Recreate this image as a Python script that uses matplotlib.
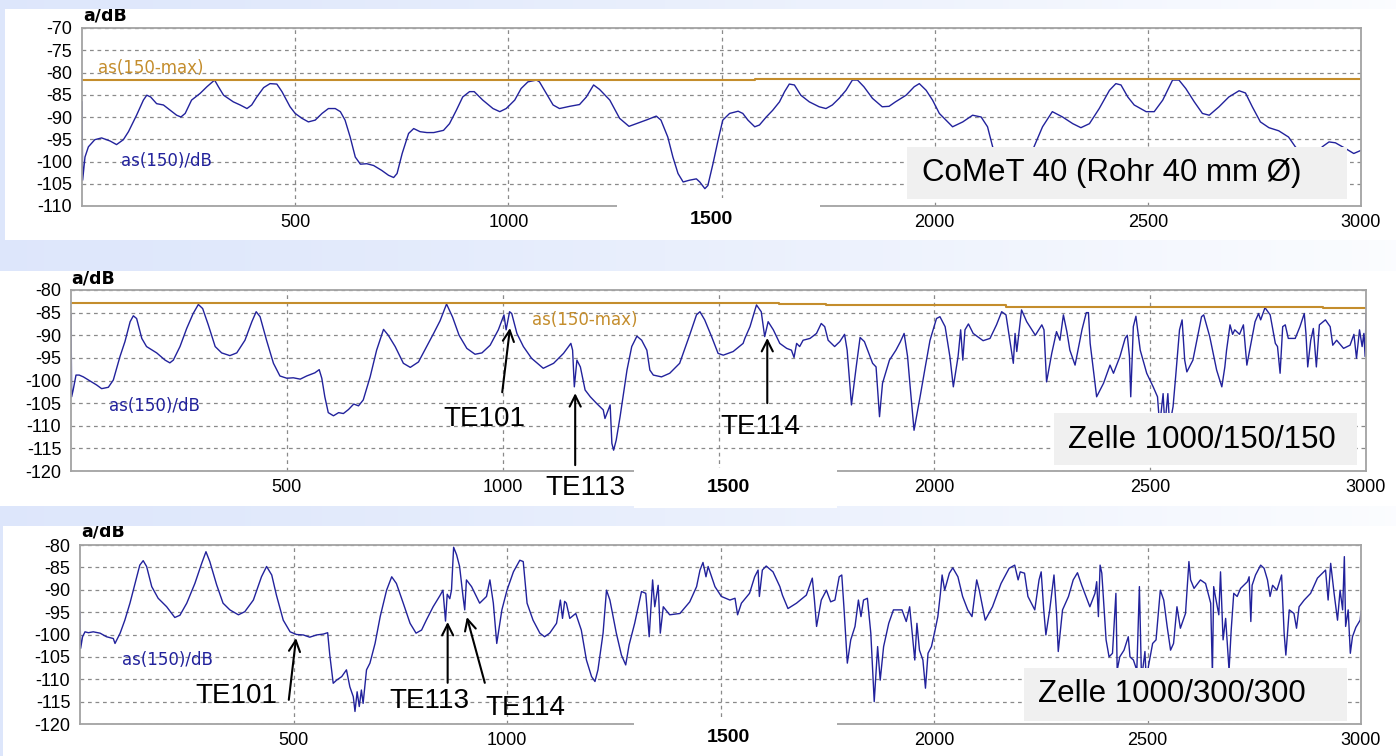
import numpy as np
import matplotlib
matplotlib.use('Agg')
import matplotlib.pyplot as plt
from matplotlib.patches import Rectangle
from matplotlib.transforms import Bbox, TransformedBbox

W, H = 1396, 756

# ---- spectra: (frequency, level in dB) ----
comet_pts = [
    (0, -86.6), (1.5, -104.2), (7, -99), (15, -96.7), (30, -95.1), (46, -94.7), (66, -95.4),
    (81, -96.2), (97, -95.1), (109, -93.3), (128, -89.6), (144, -86.2), (152, -85.1), (161, -85.5),
    (175, -87.0), (191, -87.3), (207, -88.5), (222, -89.6), (232, -90.0), (242, -89.2), (257, -86.2),
    (277, -84.7), (293, -83.2), (311, -81.7), (320, -83.2), (332, -85.1), (355, -86.6), (371, -87.3),
    (387, -88.1), (398, -87.3), (410, -85.5), (426, -83.4), (441, -82.5), (457, -82.6), (469, -84.3),
    (488, -87.7), (500, -89.2), (516, -90.3), (531, -91.1), (547, -90.7), (563, -89.2), (578, -88.1),
    (594, -88.1), (606, -88.8), (617, -90.7), (629, -94.5), (641, -99.0), (653, -100.6), (668, -100.5),
    (684, -100.9), (703, -102.0), (719, -103.1), (731, -103.6), (739, -102.7), (751, -98.2),
    (766, -93.7), (778, -92.6), (793, -93.3), (809, -93.5), (825, -93.5), (848, -93.0), (862, -91.5),
    (878, -88.5), (893, -85.5), (909, -84.3), (920, -84.3), (940, -86.2), (964, -88.1), (980, -88.8),
    (995, -88.1), (1015, -86.2), (1030, -83.6), (1046, -82.1), (1066, -81.7), (1073, -82.1),
    (1089, -84.7), (1105, -87.3), (1120, -88.1), (1144, -87.6), (1167, -87.2), (1183, -85.5),
    (1200, -82.8), (1214, -83.8), (1238, -86.2), (1261, -90.3), (1283, -92.1), (1300, -91.5),
    (1323, -90.7), (1347, -89.8), (1358, -90.7), (1374, -94.5), (1386, -99.0), (1398, -102.7),
    (1410, -104.6), (1425, -104.2), (1441, -103.9), (1449, -104.6), (1461, -106.1), (1468, -105.4),
    (1480, -100.5), (1492, -95.2), (1503, -90.7), (1519, -89.2), (1539, -88.7), (1550, -89.2),
    (1562, -90.7), (1578, -92.2), (1589, -91.8), (1605, -90.0), (1620, -88.5), (1636, -86.6),
    (1648, -84.3), (1659, -82.6), (1671, -82.8), (1686, -85.1), (1706, -86.6), (1729, -87.7),
    (1745, -88.1), (1760, -87.3), (1776, -85.8), (1792, -84.0), (1807, -81.7), (1819, -81.7),
    (1834, -83.2), (1854, -85.8), (1877, -87.7), (1893, -87.6), (1908, -86.6), (1933, -85.1),
    (1952, -83.2), (1964, -82.5), (1980, -84.0), (1995, -86.2), (2011, -89.2), (2042, -92.2),
    (2066, -91.1), (2089, -89.6), (2109, -90.0), (2124, -92.2), (2136, -96.7), (2160, -101.0),
    (2195, -103.0), (2220, -100.0), (2233, -96.7), (2253, -92.2), (2276, -88.8), (2300, -90.0),
    (2324, -91.5), (2343, -92.4), (2363, -91.5), (2386, -88.1), (2410, -84.0), (2425, -82.5),
    (2437, -82.8), (2453, -85.5), (2468, -87.3), (2496, -88.8), (2515, -88.8), (2535, -86.2),
    (2558, -81.7), (2573, -81.7), (2589, -83.6), (2609, -86.6), (2628, -89.2), (2644, -89.6),
    (2667, -87.7), (2690, -85.5), (2714, -84.1), (2729, -84.6), (2745, -87.7), (2764, -91.1),
    (2784, -92.4), (2807, -93.1), (2830, -94.5), (2846, -96.7), (2870, -99.0), (2895, -98.5),
    (2909, -96.7), (2925, -95.6), (2940, -95.8), (2964, -97.1), (2983, -98.2), (2993, -97.8),
    (3000, -97.5),
]
comet_max = [(0, -81.7), (1578, -81.5), (3000, -81.5)]

cell150_pts = [
    (0, -85.2), (1.5, -103.6), (5, -102.1), (11.6, -98.8), (19, -98.8), (28.6, -99.2), (44, -100.1),
    (59.5, -101.0), (71, -101.8), (86.5, -101.5), (98, -99.9), (113.5, -94.7), (125, -91.4),
    (137, -87.0), (144.4, -85.7), (152, -86.3), (164, -90.7), (175, -92.5), (198.5, -93.9),
    (218, -95.5), (229, -96.1), (237, -95.5), (252.5, -92.5), (268, -88.5), (283, -85.2),
    (295, -83.2), (305, -84.1), (318, -87.7), (334, -92.5), (349, -93.9), (368, -94.5), (384, -93.9),
    (403, -91.1), (419, -87.0), (429, -84.8), (438, -85.9), (453, -91.1), (469, -96.2), (484, -99.0),
    (500, -99.5), (515, -99.4), (531, -99.7), (546, -99.0), (565, -98.3), (575, -97.6), (581, -99.5),
    (588, -103.6), (596, -107.1), (608, -107.8), (620, -107.1), (631, -107.3), (643, -106.4),
    (655, -105.2), (666, -105.6), (677, -104.3), (693, -99.2), (708, -93.3), (724, -88.7),
    (735, -90.0), (751, -92.5), (770, -96.2), (786, -97.1), (805, -95.9), (824, -92.5), (840, -89.6),
    (855, -86.8), (870, -83.1), (884, -86.0), (899, -90.0), (917, -92.9), (936, -94.2), (952, -93.9),
    (971, -92.2), (990, -88.8), (1003, -85.5), (1008, -88.8), (1016, -84.8), (1021, -85.2),
    (1033, -89.6), (1048, -92.5), (1067, -95.1), (1094, -97.3), (1118, -96.2), (1141, -94.0),
    (1158, -91.8), (1162, -93.3), (1166, -101.4), (1172, -95.5), (1180, -97.0), (1191, -102.1),
    (1203, -103.6), (1218, -105.1), (1233, -106.5), (1237, -108.4), (1249, -105.4), (1253, -113.9),
    (1257, -115.4), (1263, -113.2), (1272, -108.0), (1288, -97.7), (1299, -92.5), (1311, -90.2),
    (1322, -91.1), (1334, -93.3), (1341, -97.7), (1349, -98.8), (1368, -99.2), (1387, -98.4),
    (1410, -96.2), (1433, -90.0), (1449, -85.5), (1457, -84.8), (1468, -86.6), (1484, -90.3),
    (1499, -94.0), (1511, -94.4), (1534, -93.6), (1557, -91.8), (1561, -90.7), (1573, -88.1),
    (1588, -83.3), (1599, -84.8), (1607, -90.3), (1615, -87.0), (1627, -88.8), (1642, -91.8),
    (1658, -92.9), (1669, -93.3), (1675, -94.9), (1681, -91.8), (1688, -92.5), (1696, -91.1),
    (1712, -90.7), (1727, -89.6), (1738, -87.4), (1746, -88.1), (1754, -91.1), (1769, -92.5),
    (1781, -91.4), (1792, -89.8), (1798, -93.3), (1808, -105.4), (1819, -97.0), (1828, -90.5),
    (1838, -91.4), (1857, -96.2), (1865, -97.0), (1873, -108.0), (1880, -100.6), (1896, -95.5),
    (1911, -93.3), (1921, -91.5), (1930, -89.6), (1938, -94.7), (1944, -101.4), (1953, -111.0),
    (1967, -103.6), (1979, -97.0), (1990, -91.1), (2005, -86.3), (2013, -85.9), (2025, -88.1),
    (2036, -94.7), (2044, -101.4), (2055, -94.7), (2061, -88.8), (2066, -95.5), (2071, -88.8),
    (2079, -87.5), (2090, -89.6), (2113, -91.2), (2129, -90.7), (2144, -87.7), (2156, -84.8),
    (2166, -85.5), (2175, -91.1), (2183, -96.2), (2187, -89.6), (2191, -93.6), (2202, -84.4),
    (2214, -87.0), (2234, -90.0), (2249, -87.7), (2254, -88.8), (2260, -100.3), (2272, -94.0),
    (2283, -89.2), (2291, -91.1), (2299, -85.5), (2307, -89.2), (2314, -93.3), (2326, -96.6),
    (2342, -88.8), (2352, -85.0), (2357, -85.0), (2361, -91.8), (2376, -103.6), (2392, -100.6),
    (2407, -96.6), (2415, -98.4), (2430, -94.7), (2442, -90.7), (2447, -90.0), (2452, -94.7),
    (2455, -103.6), (2461, -88.1), (2467, -85.8), (2477, -93.3), (2492, -98.4), (2507, -101.4),
    (2517, -103.6), (2522, -110.0), (2530, -102.9), (2534, -110.0), (2541, -102.9), (2545, -110.0),
    (2553, -105.8), (2559, -99.2), (2568, -88.8), (2574, -86.6), (2580, -95.5), (2585, -98.1),
    (2599, -95.5), (2619, -85.9), (2624, -85.5), (2638, -90.3), (2654, -97.7), (2666, -101.4),
    (2673, -97.0), (2677, -93.3), (2685, -87.7), (2691, -89.8), (2696, -88.8), (2707, -89.8),
    (2716, -87.7), (2724, -96.6), (2735, -91.1), (2743, -87.0), (2751, -85.2), (2756, -86.6),
    (2766, -83.9), (2778, -85.5), (2790, -91.8), (2795, -92.5), (2801, -98.4), (2807, -88.1),
    (2813, -87.7), (2820, -90.7), (2836, -90.7), (2847, -88.1), (2857, -85.2), (2861, -89.8),
    (2865, -97.0), (2872, -91.1), (2878, -88.5), (2885, -97.0), (2892, -87.7), (2906, -86.6),
    (2917, -88.1), (2923, -92.2), (2932, -91.1), (2948, -92.9), (2963, -92.2), (2972, -89.8),
    (2978, -95.1), (2985, -88.8), (2991, -92.5), (2995, -89.6), (2998, -94.7), (3000, -85.2),
]
cell150_max = [(0, -82.8), (1640, -83.0), (1750, -83.3), (2165, -83.7), (2900, -84.0), (3000, -84.0)]

cell300_pts = [
    (0, -94.9), (1.5, -103.1), (6, -100.5), (11.7, -99.4), (19.5, -99.6), (31, -99.4), (47, -99.7),
    (62, -100.5), (78, -100.9), (82, -102.0), (94, -99.7), (105, -96.8), (117, -93.0), (129, -88.6),
    (140, -84.5), (148, -83.5), (156, -84.8), (168, -89.3), (183, -91.9), (203, -93.8), (222, -96.2),
    (234, -95.7), (250, -93.0), (269, -88.6), (285, -84.1), (295, -81.5), (304, -83.7), (320, -88.9),
    (335, -93.0), (351, -94.5), (371, -95.6), (386, -94.9), (406, -92.3), (425, -87.1), (437, -84.8),
    (449, -86.7), (460, -91.2), (476, -96.8), (492, -99.4), (507, -100.0), (523, -100.1),
    (538, -100.6), (554, -100.1), (570, -99.9), (580, -99.6), (585, -104.6), (593, -110.9),
    (601, -110.2), (613, -109.4), (624, -107.9), (632, -111.7), (640, -113.9), (644, -117.2),
    (649, -112.8), (654, -116.1), (659, -112.4), (663, -115.4), (667, -111.7), (671, -107.9),
    (679, -106.4), (691, -102.0), (703, -96.0), (718, -90.1), (730, -87.1), (741, -88.6),
    (757, -93.0), (773, -97.5), (787, -99.7), (800, -99.0), (811, -96.8), (827, -93.8), (843, -91.3),
    (850, -90.1), (856, -97.0), (860, -91.0), (866, -92.0), (870, -90.1), (875, -80.5), (882, -82.2),
    (889, -84.8), (897, -91.5), (901, -94.5), (905, -87.8), (917, -89.3), (936, -93.0), (952, -91.5),
    (960, -87.8), (968, -93.0), (976, -102.0), (988, -94.5), (1000, -90.1), (1015, -86.0),
    (1030, -83.4), (1038, -83.7), (1047, -93.0), (1061, -96.8), (1077, -99.7), (1088, -100.5),
    (1100, -99.7), (1116, -97.5), (1125, -92.3), (1130, -96.4), (1135, -92.6), (1139, -93.0),
    (1147, -96.4), (1161, -95.3), (1174, -99.0), (1186, -105.7), (1198, -109.4), (1206, -110.5),
    (1213, -107.9), (1225, -99.7), (1233, -90.1), (1241, -92.3), (1256, -99.7), (1268, -104.6),
    (1278, -106.8), (1286, -102.3), (1299, -97.5), (1315, -90.4), (1325, -90.8), (1333, -100.5),
    (1341, -87.8), (1346, -93.8), (1354, -89.0), (1359, -99.7), (1366, -93.8), (1381, -95.6),
    (1405, -95.3), (1428, -92.7), (1444, -89.3), (1452, -85.6), (1459, -83.9), (1466, -87.1),
    (1471, -84.8), (1487, -89.3), (1502, -91.5), (1522, -92.3), (1534, -91.9), (1540, -95.6),
    (1549, -93.0), (1568, -90.8), (1580, -87.1), (1588, -85.6), (1591, -91.5), (1598, -85.6),
    (1607, -84.7), (1623, -86.0), (1639, -89.3), (1645, -91.2), (1658, -94.2), (1678, -93.0),
    (1701, -91.2), (1715, -87.4), (1720, -92.3), (1725, -98.2), (1736, -92.3), (1748, -90.1),
    (1758, -92.7), (1768, -92.3), (1778, -87.1), (1784, -86.7), (1789, -93.8), (1797, -106.4),
    (1805, -101.2), (1815, -98.2), (1823, -92.3), (1829, -96.0), (1835, -92.3), (1844, -91.9),
    (1852, -99.7), (1860, -115.0), (1868, -102.7), (1874, -110.2), (1882, -102.7), (1894, -97.5),
    (1905, -94.5), (1925, -94.5), (1935, -97.1), (1943, -93.8), (1949, -99.7), (1955, -105.7),
    (1960, -97.5), (1966, -103.5), (1974, -105.7), (1980, -112.0), (1986, -104.2), (1994, -102.7),
    (2001, -99.7), (2009, -96.0), (2015, -90.8), (2019, -86.7), (2025, -90.1), (2036, -86.3),
    (2044, -85.1), (2056, -87.1), (2067, -91.5), (2079, -94.5), (2089, -96.0), (2100, -87.8),
    (2106, -90.1), (2120, -96.8), (2137, -93.8), (2157, -88.6), (2176, -85.2), (2189, -84.5),
    (2197, -87.8), (2202, -86.0), (2212, -86.3), (2220, -91.5), (2236, -94.5), (2246, -87.8),
    (2251, -86.0), (2257, -94.5), (2262, -100.1), (2271, -94.5), (2281, -86.7), (2287, -95.3),
    (2291, -103.8), (2301, -94.5), (2315, -91.5), (2326, -87.8), (2336, -86.2), (2346, -89.0),
    (2365, -93.8), (2377, -90.8), (2381, -88.2), (2385, -96.0), (2389, -84.5), (2393, -86.3),
    (2398, -93.8), (2403, -101.2), (2410, -105.0), (2418, -104.2), (2426, -90.8), (2429, -108.0),
    (2435, -105.0), (2445, -103.5), (2455, -100.5), (2459, -105.0), (2467, -105.7), (2475, -108.0),
    (2481, -89.3), (2486, -110.0), (2494, -103.8), (2498, -112.0), (2502, -107.2), (2512, -102.0),
    (2520, -101.2), (2530, -90.1), (2538, -92.3), (2546, -98.2), (2554, -103.5), (2561, -102.0),
    (2569, -93.8), (2577, -98.6), (2589, -95.3), (2597, -83.7), (2601, -87.8), (2609, -89.7),
    (2624, -87.8), (2636, -88.6), (2648, -93.0), (2652, -109.0), (2655, -89.3), (2659, -91.5),
    (2667, -95.6), (2671, -86.0), (2677, -101.2), (2683, -96.4), (2691, -108.0), (2696, -99.0),
    (2702, -90.8), (2710, -91.5), (2718, -89.7), (2734, -88.2), (2738, -87.1), (2742, -97.1),
    (2745, -89.0), (2753, -86.7), (2765, -84.5), (2773, -85.2), (2781, -87.8), (2787, -91.5),
    (2793, -89.0), (2803, -90.1), (2814, -86.7), (2820, -99.7), (2824, -104.6), (2832, -94.5),
    (2843, -95.3), (2849, -98.6), (2855, -93.8), (2867, -92.3), (2882, -90.8), (2898, -87.4),
    (2917, -85.6), (2923, -92.3), (2929, -84.1), (2937, -90.8), (2945, -96.8), (2951, -90.1),
    (2957, -94.5), (2961, -82.6), (2964, -98.2), (2970, -94.5), (2975, -104.2), (2980, -100.5),
    (2988, -98.4), (2998, -96.8), (3000, -94.9),
]

xticks = [500, 1000, 1500, 2000, 2500, 3000]
xticklabels = ['500', '1000', '', '2000', '2500', '3000']
titles = ['CoMeT 40 (Rohr 40 mm Ø)', 'Zelle 1000/150/150', 'Zelle 1000/300/300']

# arrows: (label, tip, tail, text position) in data units
arrows150 = [('TE101', (1017, -88.4), (999, -102.6), (957, -108.6)),
             ('TE113', (1168, -102.8), (1168, -118.7), (1191, -123.8)),
             ('TE114', (1613, -90.6), (1613, -105.0), (1596, -110.3))]
arrows300 = [('TE101', (506, -100.8), (489, -114.6), (367, -113.7)),
             ('TE113', (861, -97.2), (861, -110.8), (819, -114.9)),
             ('TE114', (906, -96.1), (948, -110.8), (1042, -116.4))]

BLUE = '#22229c'
ORANGE = '#c48d2c'
GRID = '#8a8a8a'
SPINE = '#a3a3a3'

plt.rcParams['font.family'] = ['Liberation Sans', 'DejaVu Sans']
plt.rcParams['axes.unicode_minus'] = False

fig = plt.figure(figsize=(W / 100, H / 100), dpi=100)


def fbox(x0, y0, x1, y1):
    # pixel box -> figure fraction [left, bottom, width, height]
    return [x0 / W, 1 - y1 / H, (x1 - x0) / W, (y1 - y0) / H]


# background: light blue gradient with white panels
bg = fig.add_axes([0, 0, 1, 1], zorder=-10)
bg.set_axis_off()
ramp = np.linspace(0, 1, 256)
c0 = np.array([0.87, 0.905, 0.985])
c1 = np.array([0.985, 0.99, 1.0])
grad = c0[None, :] * (1 - ramp[:, None] ** 1.3) + c1[None, :] * ramp[:, None] ** 1.3
bg.imshow(grad[None, :, :], extent=[0, 1, 0, 1], aspect='auto', transform=bg.transAxes)
bg.set_xlim(0, 1)
bg.set_ylim(0, 1)

panels = [
    dict(white=(5, 9, 1396, 240), ax=(82, 28, 1361, 206), ylim=(-110, -70),
         cut=(617, 198, 820, 240), bold=(711, 220), alab=(83, 20.5),
         asl=(166, 161.5), box=(907, 147, 1347, 199), boxtext=(922, 173)),
    dict(white=(0, 271, 1396, 506), ax=(71, 290, 1366, 471), ylim=(-120, -80),
         cut=(634, 468, 837, 508), bold=(728, 487), alab=(71, 283),
         asl=(154, 406), box=(1054, 413, 1357, 465), boxtext=(1068, 439.5)),
    dict(white=(3, 526, 1396, 756), ax=(80, 545, 1361, 724), ylim=(-120, -80),
         cut=(634, 717, 837, 756), bold=(728, 738), alab=(81, 537),
         asl=(167, 660), box=(1024, 668, 1347, 721), boxtext=(1038, 694.5)),
]
series = [(comet_pts, comet_max), (cell150_pts, cell150_max), (cell300_pts, None)]

for i, (p, (pts, mx)) in enumerate(zip(panels, series)):
    wx0, wy0, wx1, wy1 = p['white']
    bg.add_patch(Rectangle((wx0 / W, 1 - wy1 / H), (wx1 - wx0) / W, (wy1 - wy0) / H,
                           transform=bg.transAxes, facecolor='white', edgecolor='none'))

    ax = fig.add_axes(fbox(*p['ax']))
    x, y = zip(*pts)
    ax.plot(x, y, color=BLUE, lw=1.0, zorder=2)
    if mx is not None:
        mxx, mxy = zip(*mx)
        ax.plot(mxx, mxy, color=ORANGE, lw=1.5, drawstyle='steps-post', zorder=2.2)

    lo, hi = p['ylim']
    ax.set_xlim(0, 3000)
    ax.set_ylim(lo, hi)
    ax.set_yticks(np.arange(hi, lo - 1, -5))
    ax.set_xticks(xticks)
    ax.set_xticklabels(xticklabels)
    ax.grid(True, color=GRID, lw=0.9, ls=(0, (3, 3)))
    ax.tick_params(axis='y', length=0, pad=7, labelsize=13)
    ax.tick_params(axis='x', length=0, pad=6, labelsize=13)
    for s in ax.spines.values():
        s.set_color(SPINE)
        s.set_linewidth(1.3)

    # white patch over the axis around 1500 with the bold label
    cx0, cy0, cx1, cy1 = p['cut']
    ax.add_patch(Rectangle((cx0 / W, 1 - cy1 / H), (cx1 - cx0) / W, (cy1 - cy0) / H,
                           transform=fig.transFigure, facecolor='white', edgecolor='none',
                           clip_on=False, zorder=5))
    ax.text(p['bold'][0] / W, 1 - p['bold'][1] / H, '1500', transform=fig.transFigure,
            ha='center', va='center', fontsize=14, fontweight='bold', zorder=6)

    # "a/dB" unit label, cut off by the top of the white panel
    t = fig.text(p['alab'][0] / W, 1 - p['alab'][1] / H, 'a/dB', fontsize=12.5,
                 fontweight='bold', family='DejaVu Sans', va='baseline', ha='left')
    t.set_clip_box(TransformedBbox(Bbox.from_extents(wx0 / W, 1 - wy1 / H, wx1 / W, 1 - wy0 / H),
                                   fig.transFigure))
    t.set_clip_on(True)

    ax.text(p['asl'][0] / W, 1 - p['asl'][1] / H, 'as(150)/dB', transform=fig.transFigure,
            ha='center', va='center', fontsize=12, color=BLUE, family='DejaVu Sans', zorder=6)

    bx0, by0, bx1, by1 = p['box']
    ax.add_patch(Rectangle((bx0 / W, 1 - by1 / H), (bx1 - bx0) / W, (by1 - by0) / H,
                           transform=fig.transFigure, facecolor='#f0f0f0', edgecolor='none',
                           clip_on=False, zorder=4))
    ax.text(p['boxtext'][0] / W, 1 - p['boxtext'][1] / H, titles[i], transform=fig.transFigure,
            ha='left', va='center', fontsize=22.5, color='black', zorder=6)

    if i == 0:
        ax.text(151 / W, 1 - 68 / H, 'as(150-max)', transform=fig.transFigure, ha='center',
                va='center', fontsize=12, color=ORANGE, family='DejaVu Sans', zorder=6)
    if i == 1:
        ax.text(585 / W, 1 - 320 / H, 'as(150-max)', transform=fig.transFigure, ha='center',
                va='center', fontsize=12, color=ORANGE, family='DejaVu Sans', zorder=6)

    arrows = arrows150 if i == 1 else arrows300 if i == 2 else []
    for lab, tip, tail, tpos in arrows:
        ax.annotate('', xy=tip, xytext=tail, annotation_clip=False,
                    arrowprops=dict(arrowstyle='->', lw=1.5, color='black',
                                    shrinkA=0, shrinkB=0, mutation_scale=20), zorder=6)
        ax.text(tpos[0], tpos[1], lab, ha='center', va='center', fontsize=20,
                clip_on=False, zorder=6)

fig.savefig('out.png', dpi=100)
